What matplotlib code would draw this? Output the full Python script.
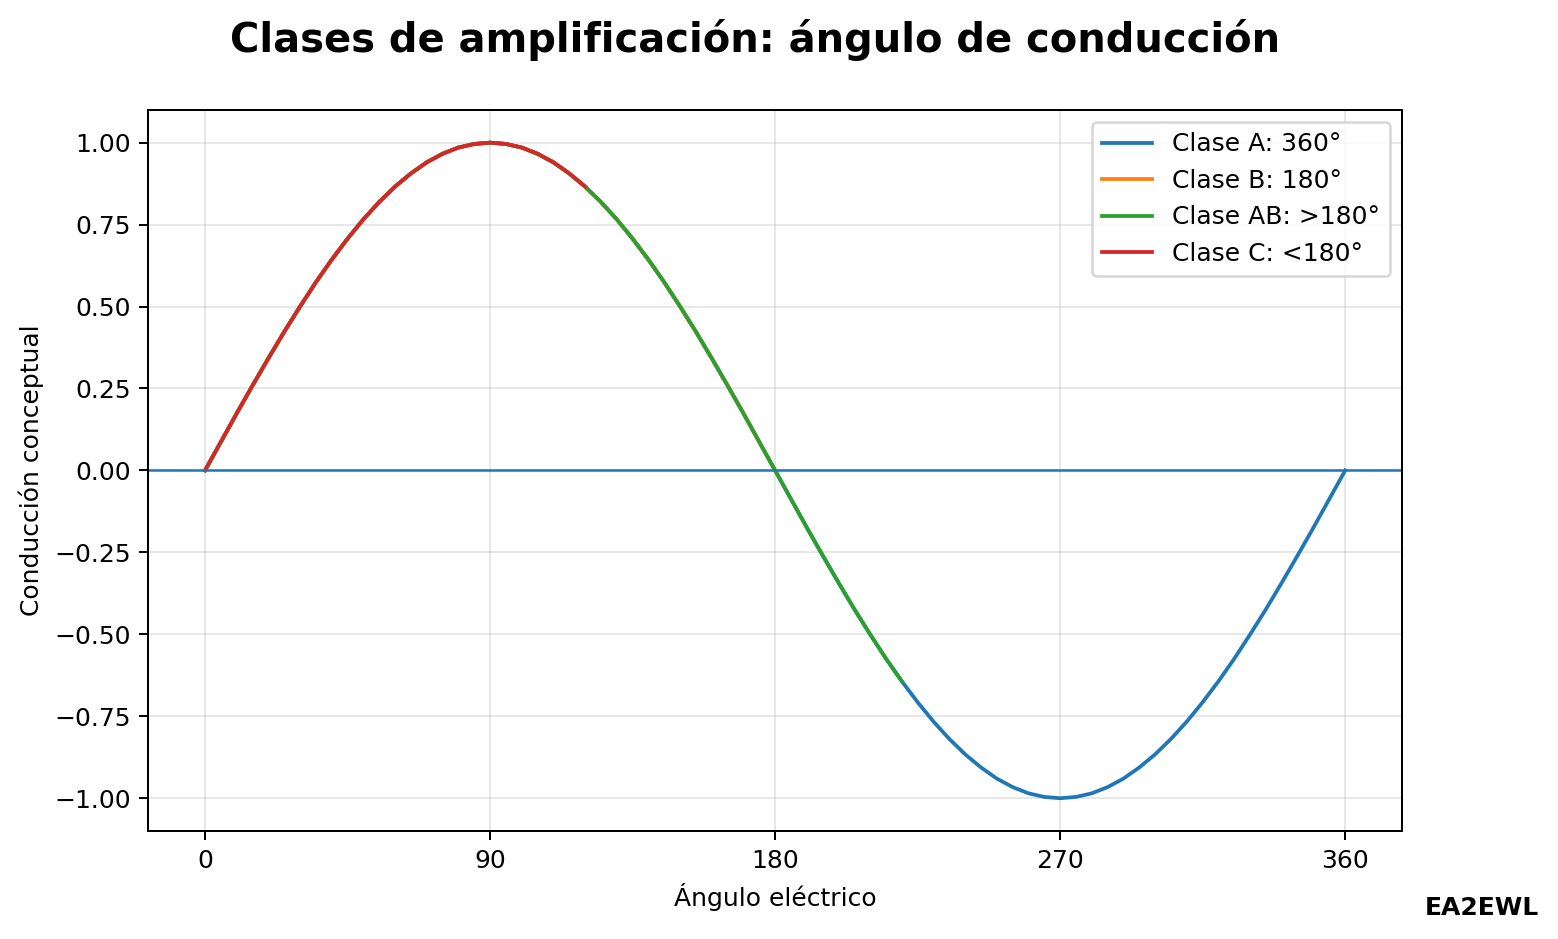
import matplotlib
matplotlib.use("Agg")
import matplotlib.pyplot as plt

# Angulo electrico (grados), paso de 5
angulos = list(range(0, 365, 5))
# Senal conceptual (seno)
senal = [
    0.000, 0.087, 0.174, 0.259, 0.342, 0.423, 0.500, 0.574, 0.643, 0.707,
    0.766, 0.819, 0.866, 0.906, 0.940, 0.966, 0.985, 0.996, 1.000,
    0.996, 0.985, 0.966, 0.940, 0.906, 0.866, 0.819, 0.766, 0.707,
    0.643, 0.574, 0.500, 0.423, 0.342, 0.259, 0.174, 0.087, 0.000,
    -0.087, -0.174, -0.259, -0.342, -0.423, -0.500, -0.574, -0.643, -0.707,
    -0.766, -0.819, -0.866, -0.906, -0.940, -0.966, -0.985, -0.996, -1.000,
    -0.996, -0.985, -0.966, -0.940, -0.906, -0.866, -0.819, -0.766, -0.707,
    -0.643, -0.574, -0.500, -0.423, -0.342, -0.259, -0.174, -0.087, 0.000,
]

# Clases y angulo final de conduccion
clases = ["Clase A: 360°", "Clase B: 180°", "Clase AB: >180°", "Clase C: <180°"]
fin_conduccion = [360, 180, 220, 120]

DPI = 180
fig = plt.figure(figsize=(1558 / DPI, 939 / DPI), dpi=DPI)
ax = fig.add_axes([0.095, 0.115, 0.805, 0.768])

for nombre, fin in zip(clases, fin_conduccion):
    n = angulos.index(fin) + 1
    ax.plot(angulos[:n], senal[:n], label=nombre)

ax.axhline(0, linewidth=1)

ax.set_xticks([0, 90, 180, 270, 360])
ax.set_xlabel("Ángulo eléctrico")
ax.set_ylabel("Conducción conceptual")
ax.grid(True, alpha=0.3)
ax.legend(loc="upper right")

fig.suptitle("Clases de amplificación: ángulo de conducción",
             fontsize=16, fontweight="bold", x=0.4846, y=0.98)
fig.text(0.988, 0.02, "EA2EWL", ha="right", va="bottom",
         fontsize=10, fontweight="bold")

fig.savefig("out.png", dpi=DPI)
